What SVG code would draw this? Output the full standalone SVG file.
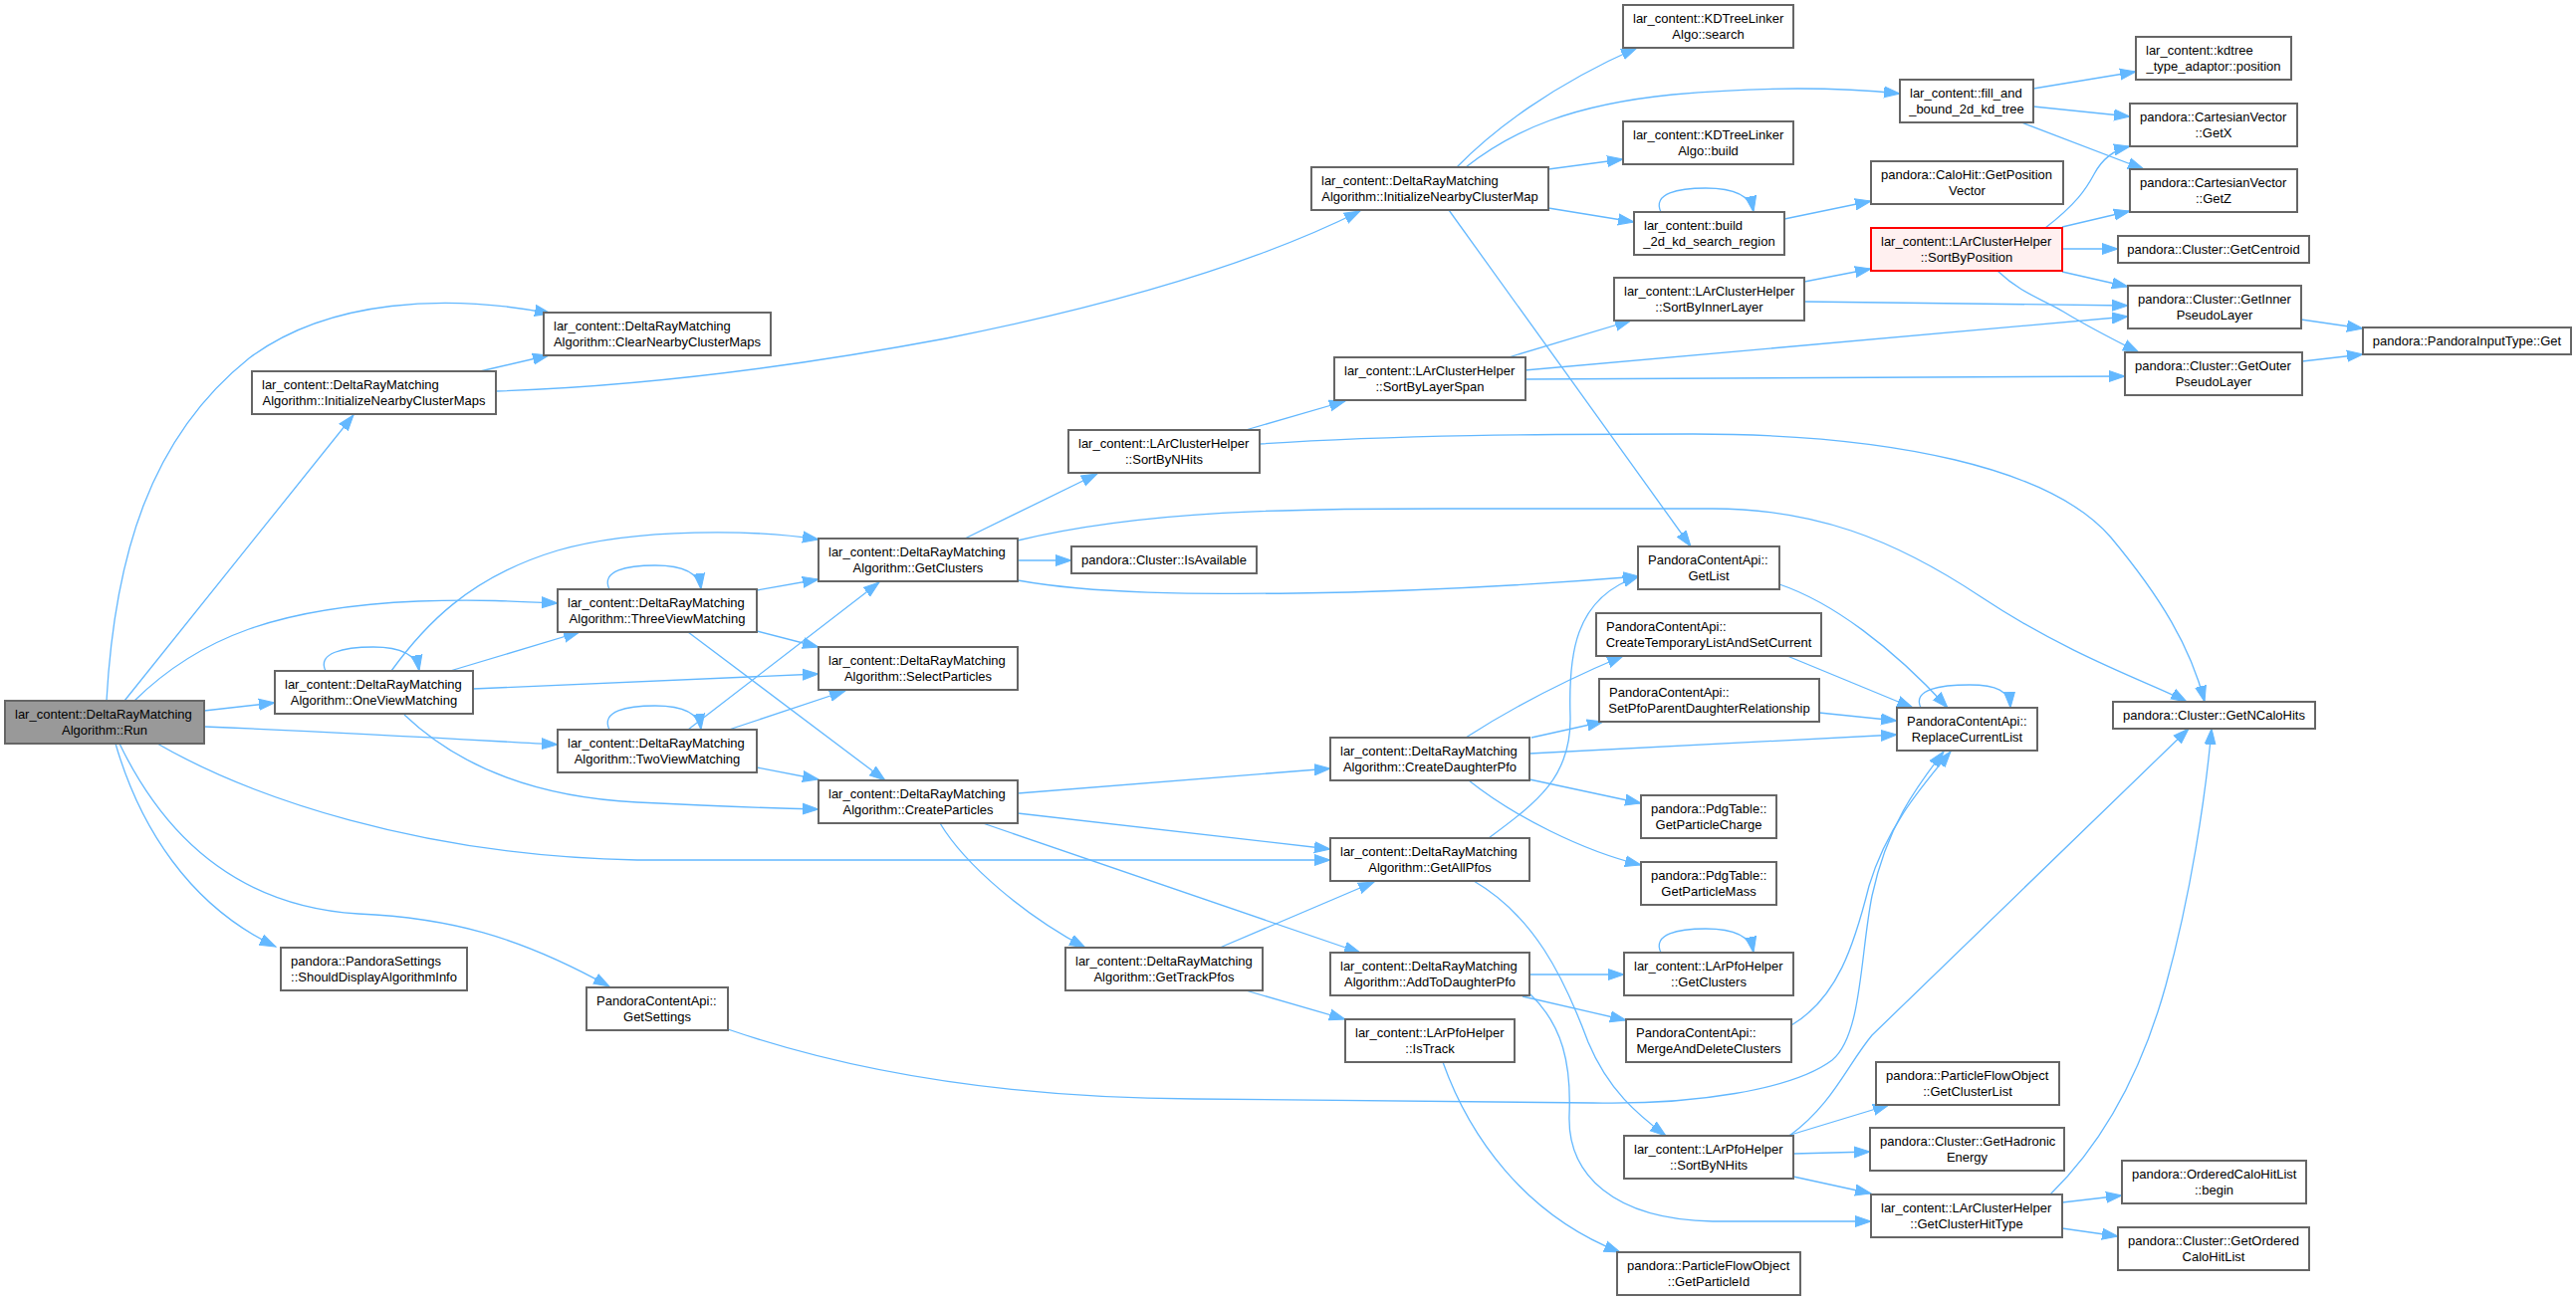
<svg xmlns="http://www.w3.org/2000/svg" width="2587" height="1307" viewBox="0 0 2587 1307">
<style>
.node rect{fill:#ffffff;stroke:#666666;stroke-width:2}
.node rect.root{fill:#999999}
.node rect.hl{fill:#fff0f0;stroke:#ff0000}
text{font-family:"Liberation Sans",Arial,Helvetica,sans-serif;font-size:13px;fill:#000000}
text.m{text-anchor:middle}
.e{fill:none;stroke:#63b8ff;stroke-width:1.3;marker-end:url(#arr)}
</style>
<defs>
<marker id="arr" markerUnits="userSpaceOnUse" markerWidth="18" markerHeight="14" refX="16" refY="6.5" orient="auto" viewBox="0 0 18 13">
<path d="M0,1 L16,6.5 L0,12 z" fill="#63b8ff" stroke="#63b8ff" stroke-width="1"/>
</marker>
</defs>
<rect x="0" y="0" width="2587" height="1307" fill="#ffffff"/>
<g id="edges">
<path class="e" d="M107,704 C115,560 150,440 250,360 C330,300 450,295 553,315"/>
<path class="e" d="M125,704 L355,417"/>
<path class="e" d="M135,704 C200,640 280,610 420,604 C480,602 520,604 560,606"/>
<path class="e" d="M205,714 L276,706"/>
<path class="e" d="M205,730 C350,736 450,742 560,748"/>
<path class="e" d="M158,747 C250,800 420,860 640,864 L1336,864"/>
<path class="e" d="M116,747 C140,830 190,910 277,951"/>
<path class="e" d="M120,747 C160,830 230,910 360,918 C450,922 520,940 612,991"/>
<path class="e" d="M482,373 L551,357"/>
<path class="e" d="M498,393 C650,388 800,368 950,340 C1100,310 1250,270 1366,212"/>
<path class="e" d="M327,674 C318,656 345,650 375,650 C400,650 418,656 421,674"/>
<path class="e" d="M452,674 L582,635"/>
<path class="e" d="M393,674 C425,630 470,580 560,553 C640,530 760,532 822,542"/>
<path class="e" d="M475,692 L822,677"/>
<path class="e" d="M406,718 C450,760 520,800 640,806 C720,810 780,812 822,813"/>
<path class="e" d="M612,592 C603,573 630,568 658,568 C685,568 702,575 704,592"/>
<path class="e" d="M760,593 L822,582"/>
<path class="e" d="M760,634 L822,650"/>
<path class="e" d="M691,635 L889,784"/>
<path class="e" d="M612,733 C603,714 630,709 658,709 C685,709 702,716 704,733"/>
<path class="e" d="M691,733 L883,585"/>
<path class="e" d="M732,733 L849,694"/>
<path class="e" d="M760,771 L822,783"/>
<path class="e" d="M969,541 L1102,476"/>
<path class="e" d="M1022,563 L1076,563"/>
<path class="e" d="M1022,543 C1150,512 1300,511 1450,511 L1720,511 C1820,511 1900,540 1990,600 C2080,660 2170,690 2196,705"/>
<path class="e" d="M1022,583 C1100,597 1200,597 1300,596 C1450,594 1560,586 1646,579"/>
<path class="e" d="M1251,432 L1351,403"/>
<path class="e" d="M1265,446 C1400,437 1550,436 1700,436 C1900,436 2060,470 2120,540 C2170,600 2200,650 2214,705"/>
<path class="e" d="M1515,359 L1638,322"/>
<path class="e" d="M1531,372 L2137,318"/>
<path class="e" d="M1531,381 L2134,378"/>
<path class="e" d="M1812,283 L1879,270"/>
<path class="e" d="M1812,303 L2137,307"/>
<path class="e" d="M2054,229 C2085,205 2095,190 2103,175 C2112,158 2125,150 2139,147"/>
<path class="e" d="M2071,228 L2139,212"/>
<path class="e" d="M2071,250 L2127,250"/>
<path class="e" d="M2071,273 L2137,288"/>
<path class="e" d="M2006,272 C2030,295 2050,300 2072,313 C2100,330 2130,345 2148,354"/>
<path class="e" d="M2311,321 L2373,330"/>
<path class="e" d="M2312,363 L2373,356"/>
<path class="e" d="M1463,168 C1500,130 1560,85 1644,48"/>
<path class="e" d="M1472,168 C1520,130 1580,105 1680,95 C1780,86 1850,88 1908,94"/>
<path class="e" d="M1555,170 L1630,160"/>
<path class="e" d="M1555,209 L1641,223"/>
<path class="e" d="M1455,211 L1698,549"/>
<path class="e" d="M2042,89 L2145,72"/>
<path class="e" d="M2042,107 L2139,117"/>
<path class="e" d="M2030,123 L2153,170"/>
<path class="e" d="M1668,213 C1659,194 1686,189 1713,189 C1740,189 1758,196 1761,213"/>
<path class="e" d="M1792,220 L1879,202"/>
<path class="e" d="M1787,587 C1840,605 1900,650 1956,711"/>
<path class="e" d="M1795,659 L1921,711"/>
<path class="e" d="M1827,716 L1905,724"/>
<path class="e" d="M1929,711 C1920,692 1950,688 1978,688 C2005,688 2018,694 2019,711"/>
<path class="e" d="M1472,741 C1520,710 1580,680 1630,659"/>
<path class="e" d="M1538,741 L1610,725"/>
<path class="e" d="M1536,757 L1905,738"/>
<path class="e" d="M1536,783 L1648,807"/>
<path class="e" d="M1475,784 C1520,820 1590,855 1648,869"/>
<path class="e" d="M1022,797 L1336,772"/>
<path class="e" d="M1022,817 L1336,853"/>
<path class="e" d="M944,827 C970,870 1030,920 1090,952"/>
<path class="e" d="M987,827 L1366,957"/>
<path class="e" d="M1495,842 C1545,805 1578,780 1577,720 C1575,660 1580,600 1646,579"/>
<path class="e" d="M1480,885 C1540,920 1570,980 1595,1047 C1615,1095 1645,1120 1673,1141"/>
<path class="e" d="M1225,952 L1380,886"/>
<path class="e" d="M1251,995 L1351,1024"/>
<path class="e" d="M1536,979 L1631,979"/>
<path class="e" d="M1529,1001 L1633,1025"/>
<path class="e" d="M1536,998 C1570,1030 1578,1070 1576,1120 C1574,1180 1620,1225 1720,1227 L1879,1227"/>
<path class="e" d="M1799,1030 C1845,1003 1862,950 1877,890 C1895,830 1930,790 1959,755"/>
<path class="e" d="M731,1034 C850,1075 1000,1103 1200,1104 L1600,1108 C1700,1110 1800,1095 1840,1065 C1870,1040 1868,960 1880,900 C1895,830 1925,790 1952,755"/>
<path class="e" d="M1668,957 C1659,938 1686,933 1713,933 C1740,933 1758,940 1761,957"/>
<path class="e" d="M1795,1141 L1897,1110"/>
<path class="e" d="M1801,1159 L1878,1157"/>
<path class="e" d="M1801,1182 L1879,1199"/>
<path class="e" d="M1797,1141 C1840,1110 1855,1070 1880,1040 L2198,732"/>
<path class="e" d="M2059,1200 C2110,1150 2150,1080 2175,990 C2200,900 2215,800 2221,732"/>
<path class="e" d="M2071,1208 L2131,1201"/>
<path class="e" d="M2071,1234 L2127,1242"/>
<path class="e" d="M1449,1067 C1475,1140 1530,1220 1627,1258"/>
</g>
<g id="n_run" class="node"><rect class="root" x="5" y="704" width="200" height="43"/><text x="15" y="722.1">lar_content::DeltaRayMatching</text><text class="m" x="105" y="738.1">Algorithm::Run</text></g>
<g id="n_initmaps" class="node"><rect x="253" y="373" width="245" height="43"/><text x="263" y="391.1">lar_content::DeltaRayMatching</text><text class="m" x="375.5" y="407.1">Algorithm::InitializeNearbyClusterMaps</text></g>
<g id="n_clearmaps" class="node"><rect x="546" y="314" width="228" height="43"/><text x="556" y="332.1">lar_content::DeltaRayMatching</text><text class="m" x="660" y="348.1">Algorithm::ClearNearbyClusterMaps</text></g>
<g id="n_oneview" class="node"><rect x="276" y="674" width="199" height="43"/><text x="286" y="692.1">lar_content::DeltaRayMatching</text><text class="m" x="375.5" y="708.1">Algorithm::OneViewMatching</text></g>
<g id="n_showinfo" class="node"><rect x="282" y="952" width="187" height="43"/><text x="292" y="970.1">pandora::PandoraSettings</text><text class="m" x="375.5" y="986.1">::ShouldDisplayAlgorithmInfo</text></g>
<g id="n_getsettings" class="node"><rect x="589" y="992" width="142" height="43"/><text x="599" y="1010.1">PandoraContentApi::</text><text class="m" x="660" y="1026.1">GetSettings</text></g>
<g id="n_threeview" class="node"><rect x="560" y="592" width="200" height="43"/><text x="570" y="610.1">lar_content::DeltaRayMatching</text><text class="m" x="660" y="626.1">Algorithm::ThreeViewMatching</text></g>
<g id="n_twoview" class="node"><rect x="560" y="733" width="200" height="43"/><text x="570" y="751.1">lar_content::DeltaRayMatching</text><text class="m" x="660" y="767.1">Algorithm::TwoViewMatching</text></g>
<g id="n_getclusters" class="node"><rect x="822" y="541" width="200" height="43"/><text x="832" y="559.1">lar_content::DeltaRayMatching</text><text class="m" x="922" y="575.1">Algorithm::GetClusters</text></g>
<g id="n_select" class="node"><rect x="822" y="650" width="200" height="43"/><text x="832" y="668.1">lar_content::DeltaRayMatching</text><text class="m" x="922" y="684.1">Algorithm::SelectParticles</text></g>
<g id="n_create" class="node"><rect x="822" y="784" width="200" height="43"/><text x="832" y="802.1">lar_content::DeltaRayMatching</text><text class="m" x="922" y="818.1">Algorithm::CreateParticles</text></g>
<g id="n_initmap" class="node"><rect x="1317" y="168" width="238" height="43"/><text x="1327" y="186.1">lar_content::DeltaRayMatching</text><text class="m" x="1436" y="202.1">Algorithm::InitializeNearbyClusterMap</text></g>
<g id="n_cl_sortnhits" class="node"><rect x="1073" y="432" width="192" height="43"/><text x="1083" y="450.1">lar_content::LArClusterHelper</text><text class="m" x="1169" y="466.1">::SortByNHits</text></g>
<g id="n_isavail" class="node"><rect x="1076" y="549" width="186" height="27"/><text class="m" x="1169" y="567.1">pandora::Cluster::IsAvailable</text></g>
<g id="n_trackpfos" class="node"><rect x="1070" y="952" width="198" height="43"/><text x="1080" y="970.1">lar_content::DeltaRayMatching</text><text class="m" x="1169" y="986.1">Algorithm::GetTrackPfos</text></g>
<g id="n_createdaughter" class="node"><rect x="1336" y="741" width="200" height="43"/><text x="1346" y="759.1">lar_content::DeltaRayMatching</text><text class="m" x="1436" y="775.1">Algorithm::CreateDaughterPfo</text></g>
<g id="n_getallpfos" class="node"><rect x="1336" y="842" width="200" height="43"/><text x="1346" y="860.1">lar_content::DeltaRayMatching</text><text class="m" x="1436" y="876.1">Algorithm::GetAllPfos</text></g>
<g id="n_addtodaughter" class="node"><rect x="1336" y="957" width="200" height="43"/><text x="1346" y="975.1">lar_content::DeltaRayMatching</text><text class="m" x="1436" y="991.1">Algorithm::AddToDaughterPfo</text></g>
<g id="n_sortlayerspan" class="node"><rect x="1340" y="359" width="192" height="43"/><text x="1350" y="377.1">lar_content::LArClusterHelper</text><text class="m" x="1436" y="393.1">::SortByLayerSpan</text></g>
<g id="n_istrack" class="node"><rect x="1351" y="1024" width="170" height="43"/><text x="1361" y="1042.1">lar_content::LArPfoHelper</text><text class="m" x="1436" y="1058.1">::IsTrack</text></g>
<g id="n_kdsearch" class="node"><rect x="1630" y="5" width="171" height="43"/><text x="1640" y="23.1">lar_content::KDTreeLinker</text><text class="m" x="1715.5" y="39.1">Algo::search</text></g>
<g id="n_kdbuild" class="node"><rect x="1630" y="122" width="171" height="43"/><text x="1640" y="140.1">lar_content::KDTreeLinker</text><text class="m" x="1715.5" y="156.1">Algo::build</text></g>
<g id="n_build2d" class="node"><rect x="1641" y="213" width="151" height="43"/><text x="1651" y="231.1">lar_content::build</text><text class="m" x="1716.5" y="247.1">_2d_kd_search_region</text></g>
<g id="n_sortinner" class="node"><rect x="1621" y="279" width="191" height="43"/><text x="1631" y="297.1">lar_content::LArClusterHelper</text><text class="m" x="1716.5" y="313.1">::SortByInnerLayer</text></g>
<g id="n_getlist" class="node"><rect x="1645" y="549" width="142" height="43"/><text x="1655" y="567.1">PandoraContentApi::</text><text class="m" x="1716" y="583.1">GetList</text></g>
<g id="n_createtemp" class="node"><rect x="1603" y="616" width="226" height="43"/><text x="1613" y="634.1">PandoraContentApi::</text><text class="m" x="1716" y="650.1">CreateTemporaryListAndSetCurrent</text></g>
<g id="n_setpfo" class="node"><rect x="1606" y="682" width="221" height="43"/><text x="1616" y="700.1">PandoraContentApi::</text><text class="m" x="1716.5" y="716.1">SetPfoParentDaughterRelationship</text></g>
<g id="n_charge" class="node"><rect x="1648" y="799" width="136" height="43"/><text x="1658" y="817.1">pandora::PdgTable::</text><text class="m" x="1716" y="833.1">GetParticleCharge</text></g>
<g id="n_mass" class="node"><rect x="1648" y="866" width="136" height="43"/><text x="1658" y="884.1">pandora::PdgTable::</text><text class="m" x="1716" y="900.1">GetParticleMass</text></g>
<g id="n_pfo_getclusters" class="node"><rect x="1631" y="957" width="170" height="43"/><text x="1641" y="975.1">lar_content::LArPfoHelper</text><text class="m" x="1716" y="991.1">::GetClusters</text></g>
<g id="n_merge" class="node"><rect x="1633" y="1024" width="166" height="43"/><text x="1643" y="1042.1">PandoraContentApi::</text><text class="m" x="1716" y="1058.1">MergeAndDeleteClusters</text></g>
<g id="n_pfo_sortnhits" class="node"><rect x="1631" y="1141" width="170" height="43"/><text x="1641" y="1159.1">lar_content::LArPfoHelper</text><text class="m" x="1716" y="1175.1">::SortByNHits</text></g>
<g id="n_particleid" class="node"><rect x="1624" y="1258" width="184" height="43"/><text x="1634" y="1276.1">pandora::ParticleFlowObject</text><text class="m" x="1716" y="1292.1">::GetParticleId</text></g>
<g id="n_fillbound" class="node"><rect x="1908" y="80" width="134" height="43"/><text x="1918" y="98.1">lar_content::fill_and</text><text class="m" x="1975" y="114.1">_bound_2d_kd_tree</text></g>
<g id="n_posvec" class="node"><rect x="1879" y="162" width="193" height="43"/><text x="1889" y="180.1">pandora::CaloHit::GetPosition</text><text class="m" x="1975.5" y="196.1">Vector</text></g>
<g id="n_sortpos" class="node"><rect class="hl" x="1879" y="229" width="192" height="43"/><text x="1889" y="247.1">lar_content::LArClusterHelper</text><text class="m" x="1975" y="263.1">::SortByPosition</text></g>
<g id="n_replace" class="node"><rect x="1905" y="711" width="141" height="43"/><text x="1915" y="729.1">PandoraContentApi::</text><text class="m" x="1975.5" y="745.1">ReplaceCurrentList</text></g>
<g id="n_clusterlist" class="node"><rect x="1884" y="1067" width="184" height="43"/><text x="1894" y="1085.1">pandora::ParticleFlowObject</text><text class="m" x="1976" y="1101.1">::GetClusterList</text></g>
<g id="n_hadronic" class="node"><rect x="1878" y="1133" width="195" height="43"/><text x="1888" y="1151.1">pandora::Cluster::GetHadronic</text><text class="m" x="1975.5" y="1167.1">Energy</text></g>
<g id="n_hittype" class="node"><rect x="1879" y="1200" width="192" height="43"/><text x="1889" y="1218.1">lar_content::LArClusterHelper</text><text class="m" x="1975" y="1234.1">::GetClusterHitType</text></g>
<g id="n_kdposition" class="node"><rect x="2145" y="37" width="156" height="43"/><text x="2155" y="55.1">lar_content::kdtree</text><text class="m" x="2223" y="71.1">_type_adaptor::position</text></g>
<g id="n_getx" class="node"><rect x="2139" y="104" width="168" height="43"/><text x="2149" y="122.1">pandora::CartesianVector</text><text class="m" x="2223" y="138.1">::GetX</text></g>
<g id="n_getz" class="node"><rect x="2139" y="170" width="168" height="43"/><text x="2149" y="188.1">pandora::CartesianVector</text><text class="m" x="2223" y="204.1">::GetZ</text></g>
<g id="n_centroid" class="node"><rect x="2127" y="237" width="192" height="27"/><text class="m" x="2223" y="255.1">pandora::Cluster::GetCentroid</text></g>
<g id="n_inner" class="node"><rect x="2137" y="287" width="174" height="43"/><text x="2147" y="305.1">pandora::Cluster::GetInner</text><text class="m" x="2224" y="321.1">PseudoLayer</text></g>
<g id="n_outer" class="node"><rect x="2134" y="354" width="178" height="43"/><text x="2144" y="372.1">pandora::Cluster::GetOuter</text><text class="m" x="2223" y="388.1">PseudoLayer</text></g>
<g id="n_ncalohits" class="node"><rect x="2122" y="705" width="203" height="27"/><text class="m" x="2223.5" y="723.1">pandora::Cluster::GetNCaloHits</text></g>
<g id="n_begin" class="node"><rect x="2131" y="1166" width="185" height="43"/><text x="2141" y="1184.1">pandora::OrderedCaloHitList</text><text class="m" x="2223.5" y="1200.1">::begin</text></g>
<g id="n_ordered" class="node"><rect x="2127" y="1233" width="192" height="43"/><text x="2137" y="1251.1">pandora::Cluster::GetOrdered</text><text class="m" x="2223" y="1267.1">CaloHitList</text></g>
<g id="n_inputget" class="node"><rect x="2373" y="329" width="209" height="27"/><text class="m" x="2477.5" y="347.1">pandora::PandoraInputType::Get</text></g>
</svg>
